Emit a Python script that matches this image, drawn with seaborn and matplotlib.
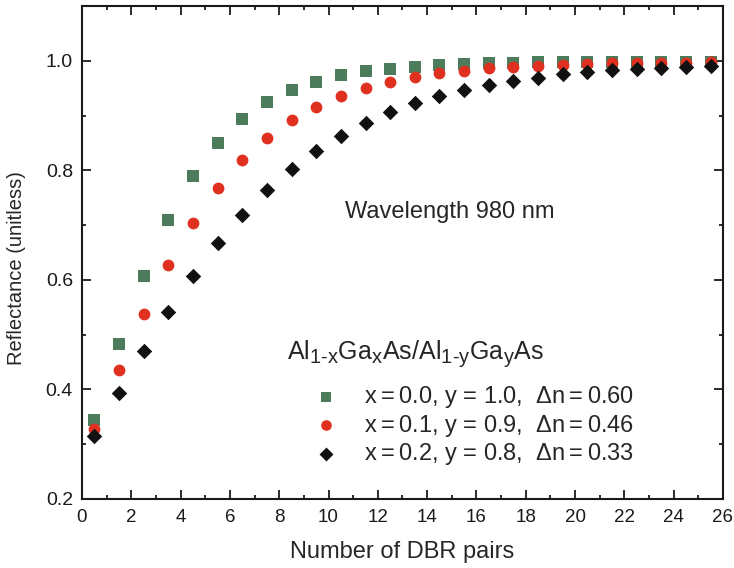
import numpy as np
import pandas as pd
import seaborn as sns
import matplotlib
import matplotlib.pyplot as plt
from matplotlib.ticker import MultipleLocator

# Number of DBR pairs (half-integer positions as plotted)
pairs = [0.5, 1.5, 2.5, 3.5, 4.5, 5.5, 6.5, 7.5, 8.5, 9.5, 10.5, 11.5, 12.5,
         13.5, 14.5, 15.5, 16.5, 17.5, 18.5, 19.5, 20.5, 21.5, 22.5, 23.5, 24.5, 25.5]

# Reflectance for each AlGaAs/AlGaAs pairing
refl_x00 = [0.344, 0.483, 0.608, 0.710, 0.790, 0.850, 0.894, 0.925, 0.947, 0.962,
            0.974, 0.981, 0.986, 0.989, 0.992, 0.994, 0.996, 0.997, 0.998, 0.998,
            0.999, 0.999, 0.999, 0.999, 0.999, 0.999]
refl_x01 = [0.328, 0.436, 0.537, 0.627, 0.704, 0.768, 0.819, 0.859, 0.892, 0.916,
            0.936, 0.951, 0.962, 0.971, 0.978, 0.982, 0.987, 0.989, 0.991, 0.993,
            0.995, 0.996, 0.996, 0.997, 0.997, 0.998]
refl_x02 = [0.315, 0.394, 0.470, 0.542, 0.607, 0.668, 0.719, 0.764, 0.803, 0.836,
            0.863, 0.887, 0.907, 0.923, 0.936, 0.947, 0.956, 0.963, 0.969, 0.976,
            0.980, 0.984, 0.985, 0.987, 0.989, 0.991]

labels = [r"x$\:$=$\:$0.0, y = 1.0,  $\Delta$n$\:$=$\:$0.60",
          r"x$\:$=$\:$0.1, y = 0.9,  $\Delta$n$\:$=$\:$0.46",
          r"x$\:$=$\:$0.2, y = 0.8,  $\Delta$n$\:$=$\:$0.33"]
legend_title = r"Al$_{1\text{-}x}$Ga$_x$As/Al$_{1\text{-}y}$Ga$_y$As"
colors = ["#4d7c5d", "#e0301f", "#111111"]
markers = ["s", "o", "D"]
sizes = [64, 72, 62]

sns.set_theme(style="white")
plt.rcParams["font.family"] = ["Liberation Sans", "DejaVu Sans"]
plt.rcParams["mathtext.fontset"] = "custom"
plt.rcParams["mathtext.rm"] = "Liberation Sans"
plt.rcParams["mathtext.it"] = "Liberation Sans"
plt.rcParams["mathtext.default"] = "regular"
# slightly larger sub-/superscripts for the composition formula
try:
    matplotlib._mathtext.SHRINK_FACTOR = 0.8
except Exception:
    pass

fig = plt.figure(figsize=(7.34, 5.68), dpi=100)
ax = fig.add_axes([0.1117, 0.1215, 0.8733, 0.8675])

for vals, lab, col, mk, sz in zip([refl_x00, refl_x01, refl_x02], labels, colors, markers, sizes):
    df = pd.DataFrame({"pairs": pairs, "R": vals})
    sns.scatterplot(data=df, x="pairs", y="R", ax=ax, color=col, marker=mk,
                    s=sz, linewidth=0, label=lab, zorder=3)

ax.set_xlim(0, 26)
ax.set_ylim(0.2, 1.1)
ax.xaxis.set_major_locator(MultipleLocator(2))
ax.xaxis.set_minor_locator(MultipleLocator(1))
ax.yaxis.set_minor_locator(MultipleLocator(0.1))
ax.set_yticks([0.2, 0.4, 0.6, 0.8, 1.0])
ax.set_yticklabels(["0.2", "0.4", "0.6", "0.8", "1.0"])
ax.tick_params(which="both", direction="in", bottom=True, left=True, top=True,
               right=True, colors="#1a1a1a", width=1.3)
ax.tick_params(which="major", length=6.5)
ax.tick_params(which="minor", length=3)
ax.tick_params(axis="x", labelsize=13.5, pad=7)
ax.tick_params(axis="y", labelsize=14, pad=6.5)
for sp in ax.spines.values():
    sp.set_linewidth(1.5)
    sp.set_color("#1a1a1a")

ax.set_xlabel("Number of DBR pairs", fontsize=17, labelpad=11)
ax.set_ylabel("Reflectance (unitless)", fontsize=14.5)
ax.yaxis.set_label_coords(-0.088, 0.469)

ax.text(14.9, 0.724, "Wavelength 980 nm", fontsize=17, ha="center", va="center")

# composition header above the legend entries
ax.text(8.33, 0.454, legend_title, fontsize=18, ha="left", va="baseline")

leg = ax.legend(loc="center left", bbox_to_anchor=(0.3624, 0.149), frameon=False,
                fontsize=17, handlelength=1.0, handletextpad=1.12,
                labelspacing=0.12, borderpad=0, borderaxespad=0, markerscale=0.9)

fig.savefig("out.png", dpi=100)
